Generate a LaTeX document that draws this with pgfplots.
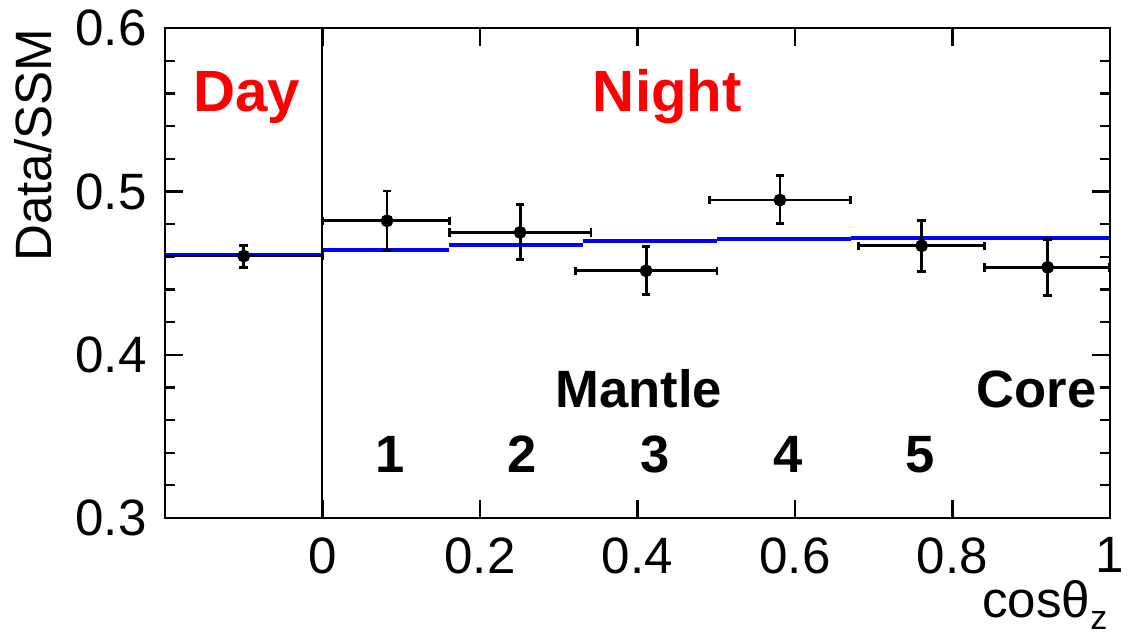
\documentclass[border=0pt]{standalone}
\usepackage{pgfplots}
\pgfplotsset{compat=1.18}
\usepackage{pgfplotstable}
\usepackage{fontspec}
\setmainfont{Liberation Sans}

\pgfplotstableread{
x      y       exm    exp    eym     eyp
-0.100 0.4604  0.100  0.100  0.0069  0.0063
0.082  0.4820  0.082  0.079  0.0181  0.0182
0.251  0.4749  0.090  0.090  0.0165  0.0169
0.411  0.4514  0.090  0.090  0.0145  0.0147
0.581  0.4947  0.090  0.090  0.0143  0.0149
0.761  0.4667  0.080  0.080  0.0159  0.0157
0.921  0.4535  0.080  0.079  0.0175  0.0171
}\datatable

\pgfplotstableread{
x      y
-0.200 0.4610
0.000  0.4639
0.161  0.4669
0.331  0.4696
0.501  0.4708
0.671  0.4712
1.000  0.4712
}\ssmtable

\begin{document}
\begin{tikzpicture}
\begin{axis}[
  scale only axis,
  width=332.7pt, height=172.5pt,
  xmin=-0.2, xmax=1, ymin=0.3, ymax=0.6,
  xtick={0,0.2,0.4,0.6,0.8,1},
  ytick={0.3,0.4,0.5,0.6},
  minor y tick num=4,
  tick align=inside,
  xtick pos=both, ytick pos=both,
  major tick length=6.3pt, minor tick length=3.5pt,
  axis line style={line width=0.9pt},
  every tick/.style={black, line width=0.8pt},
  /pgf/number format/assume math mode=true,
  tick label style={font=\fontsize{18}{18}\selectfont, inner sep=0pt},
  xticklabel style={yshift=-6.7pt},
  yticklabel style={xshift=-6.3pt},
  clip mode=individual,
]
\addplot[blue, line width=1.4pt, jump mark left] table[x=x, y=y] {\ssmtable};
\addplot[black, line width=0.7pt] coordinates {(0,0.3) (0,0.6)};
\addplot[black, only marks, mark=*, mark size=1.75pt, line width=1pt,
  error bars/.cd, x dir=both, x explicit, y dir=both, y explicit,
  error bar style={line width=1pt, black},
  error mark options={line width=1pt, black, mark size=1.5pt, rotate=90}]
  table[x=x, y=y, x error minus=exm, x error plus=exp, y error minus=eym, y error plus=eyp] {\datatable};

\node[text=red, font=\fontsize{20.5}{20.5}\selectfont\bfseries, anchor=base] at (axis cs:-0.096,0.5492) {Day};
\node[text=red, font=\fontsize{20.5}{20.5}\selectfont\bfseries, anchor=base] at (axis cs:0.438,0.5492) {Night};
\node[font=\fontsize{18.5}{18.5}\selectfont\bfseries, anchor=base] at (axis cs:0.402,0.3675) {Mantle};
\node[font=\fontsize{18.5}{18.5}\selectfont\bfseries, anchor=base] at (axis cs:0.907,0.3675) {Core};
\node[font=\fontsize{18.5}{18.5}\selectfont\bfseries, anchor=base] at (axis cs:0.086,0.3281) {1};
\node[font=\fontsize{18.5}{18.5}\selectfont\bfseries, anchor=base] at (axis cs:0.253,0.3281) {2};
\node[font=\fontsize{18.5}{18.5}\selectfont\bfseries, anchor=base] at (axis cs:0.423,0.3281) {3};
\node[font=\fontsize{18.5}{18.5}\selectfont\bfseries, anchor=base] at (axis cs:0.591,0.3281) {4};
\node[font=\fontsize{18.5}{18.5}\selectfont\bfseries, anchor=base] at (axis cs:0.759,0.3281) {5};
\node[rotate=90, anchor=base east, font=\fontsize{18}{18}\selectfont, inner sep=0pt]
  at ([xshift=-39.8pt]rel axis cs:0,1) {Data/SSM};
\node[anchor=base east, font=\fontsize{18}{18}\selectfont, inner sep=0pt]
  at ([xshift=-0.7pt, yshift=-35.2pt]rel axis cs:1,0) {cosθ\raisebox{-4.2pt}{\fontsize{12}{12}\selectfont z}};
\end{axis}
\pgfresetboundingbox
\useasboundingbox (-58.1pt,-41.9pt) rectangle (341.9pt,182.4pt);
\end{tikzpicture}
\end{document}
